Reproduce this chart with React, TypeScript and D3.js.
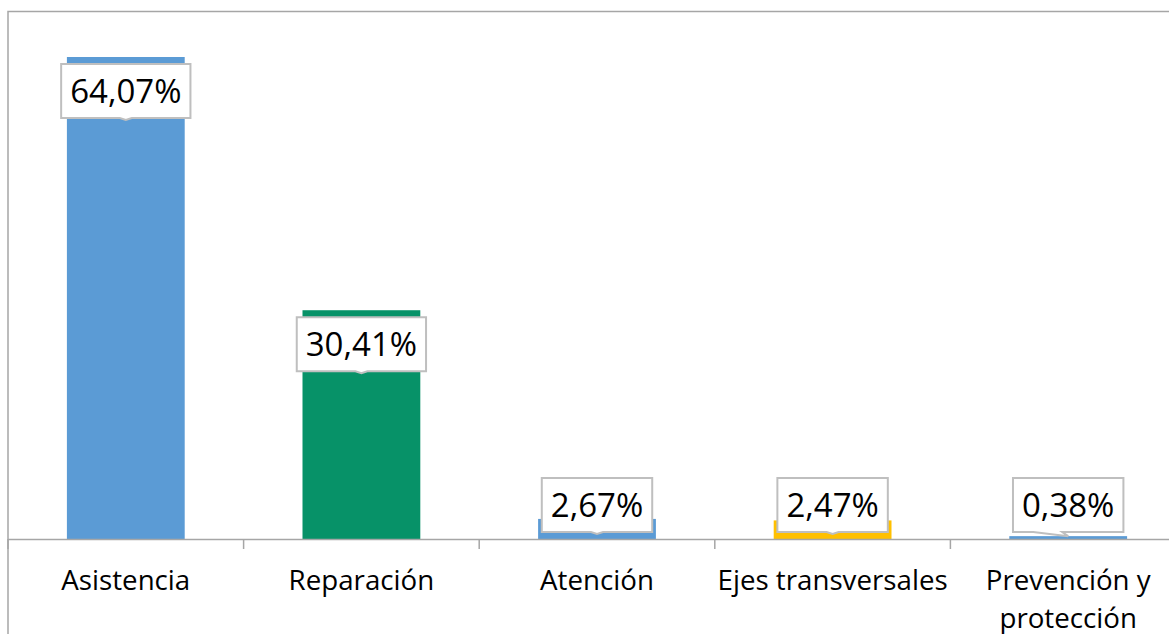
import React, { useEffect, useRef } from 'react';
import * as d3 from 'd3';

// data
const categories = ['Asistencia', 'Reparación', 'Atención', 'Ejes transversales', 'Prevención y protección'];
const values = [64.07, 30.41, 2.67, 2.47, 0.38];
const valueLabels = ['64,07%', '30,41%', '2,67%', '2,47%', '0,38%'];
const barColors = ['#5b9bd5', '#079268', '#5b9bd5', '#ffc000', '#5b9bd5'];

const W = 1169;
const H = 634;

const App = () => {
  const ref = useRef<SVGSVGElement>(null);

  useEffect(() => {
    if (!ref.current) return;
    const svg = d3.select(ref.current);
    svg.selectAll('*').remove();

    const left = 8;
    const right = 1186; // plot runs past the right edge of the window
    const base = 539;
    const font = "'Open Sans', 'Noto Sans', sans-serif";

    // outer frame
    svg.append('rect')
      .attr('x', left).attr('y', 11.5)
      .attr('width', 1300).attr('height', 800)
      .attr('fill', 'none')
      .attr('stroke', '#a6a6a6')
      .attr('stroke-width', 1.5);

    const x = d3.scaleBand<string>()
      .domain(categories)
      .range([left, right])
      .paddingInner(0.5)
      .paddingOuter(0.25);

    const y = d3.scaleLinear()
      .domain([0, 64.07])
      .range([base, 57]);

    const data = categories.map((c, i) => ({ c, v: values[i], label: valueLabels[i], color: barColors[i] }));

    // bars
    svg.append('g')
      .selectAll('rect')
      .data(data)
      .join('rect')
      .attr('x', d => x(d.c)!)
      .attr('width', x.bandwidth())
      .attr('y', d => y(d.v))
      .attr('height', d => base - y(d.v))
      .attr('fill', d => d.color);

    // x axis with ticks between categories
    const step = x.step();
    const axis = svg.append('g');
    axis.append('line')
      .attr('x1', left).attr('x2', 1300)
      .attr('y1', base + 0.5).attr('y2', base + 0.5)
      .attr('stroke', '#a6a6a6').attr('stroke-width', 1.5);
    axis.selectAll('line.tick')
      .data(d3.range(categories.length + 1))
      .join('line')
      .attr('class', 'tick')
      .attr('x1', i => left + i * step).attr('x2', i => left + i * step)
      .attr('y1', base).attr('y2', base + 10)
      .attr('stroke', '#a6a6a6').attr('stroke-width', 1.5);

    // category labels, wrapped to the band step
    const cat = svg.append('g')
      .attr('font-family', font)
      .attr('font-size', 27.7)
      .attr('fill', '#000')
      .attr('text-anchor', 'middle');
    data.forEach(d => {
      const cx = x(d.c)! + x.bandwidth() / 2;
      const t = cat.append('text').attr('x', cx).attr('y', 590);
      const words = d.c.split(' ');
      let line: string[] = [];
      let ts = t.append('tspan').attr('x', cx).attr('dy', 0);
      words.forEach(w => {
        line.push(w);
        ts.text(line.join(' '));
        if ((ts.node() as SVGTSpanElement).getComputedTextLength() > step - 4 && line.length > 1) {
          line.pop();
          ts.text(line.join(' '));
          line = [w];
          ts = t.append('tspan').attr('x', cx).attr('dy', 38).text(w);
        }
      });
    });

    // value callouts
    const lab = svg.append('g').attr('font-family', font).attr('font-size', 33);
    data.forEach(d => {
      const cx = x(d.c)! + x.bandwidth() / 2;
      const barTop = y(d.v);
      const g = lab.append('g');
      const txt = g.append('text')
        .attr('x', cx)
        .attr('text-anchor', 'middle')
        .attr('fill', '#000')
        .text(d.label);
      const tw = (txt.node() as SVGTextElement).getComputedTextLength();
      const bw = tw + 18;
      const bh = 54;
      const top = Math.min(barTop + 7, base - 7 - bh);
      const bottom = top + bh;
      const tip = Math.max(barTop, bottom + 2);
      const x0 = cx - bw / 2;
      const x1 = cx + bw / 2;
      const skew = tip - bottom > 4;
      const pl = skew ? cx - 35 : cx - 6;
      const pr = skew ? cx - 6 : cx + 6;
      const path = `M${x0},${top}H${x1}V${bottom}H${pr}L${cx},${tip}L${pl},${bottom}H${x0}Z`;
      g.insert('path', 'text')
        .attr('d', path)
        .attr('fill', '#fff')
        .attr('stroke', '#bfbfbf')
        .attr('stroke-width', 2);
      txt.attr('y', top + bh / 2 + 12);
    });
  }, []);

  return (
    <svg
      ref={ref}
      width={W}
      height={H}
      style={{ position: 'absolute', left: 0, top: 0, background: '#fff', display: 'block' }}
    />
  );
};

export default App;
